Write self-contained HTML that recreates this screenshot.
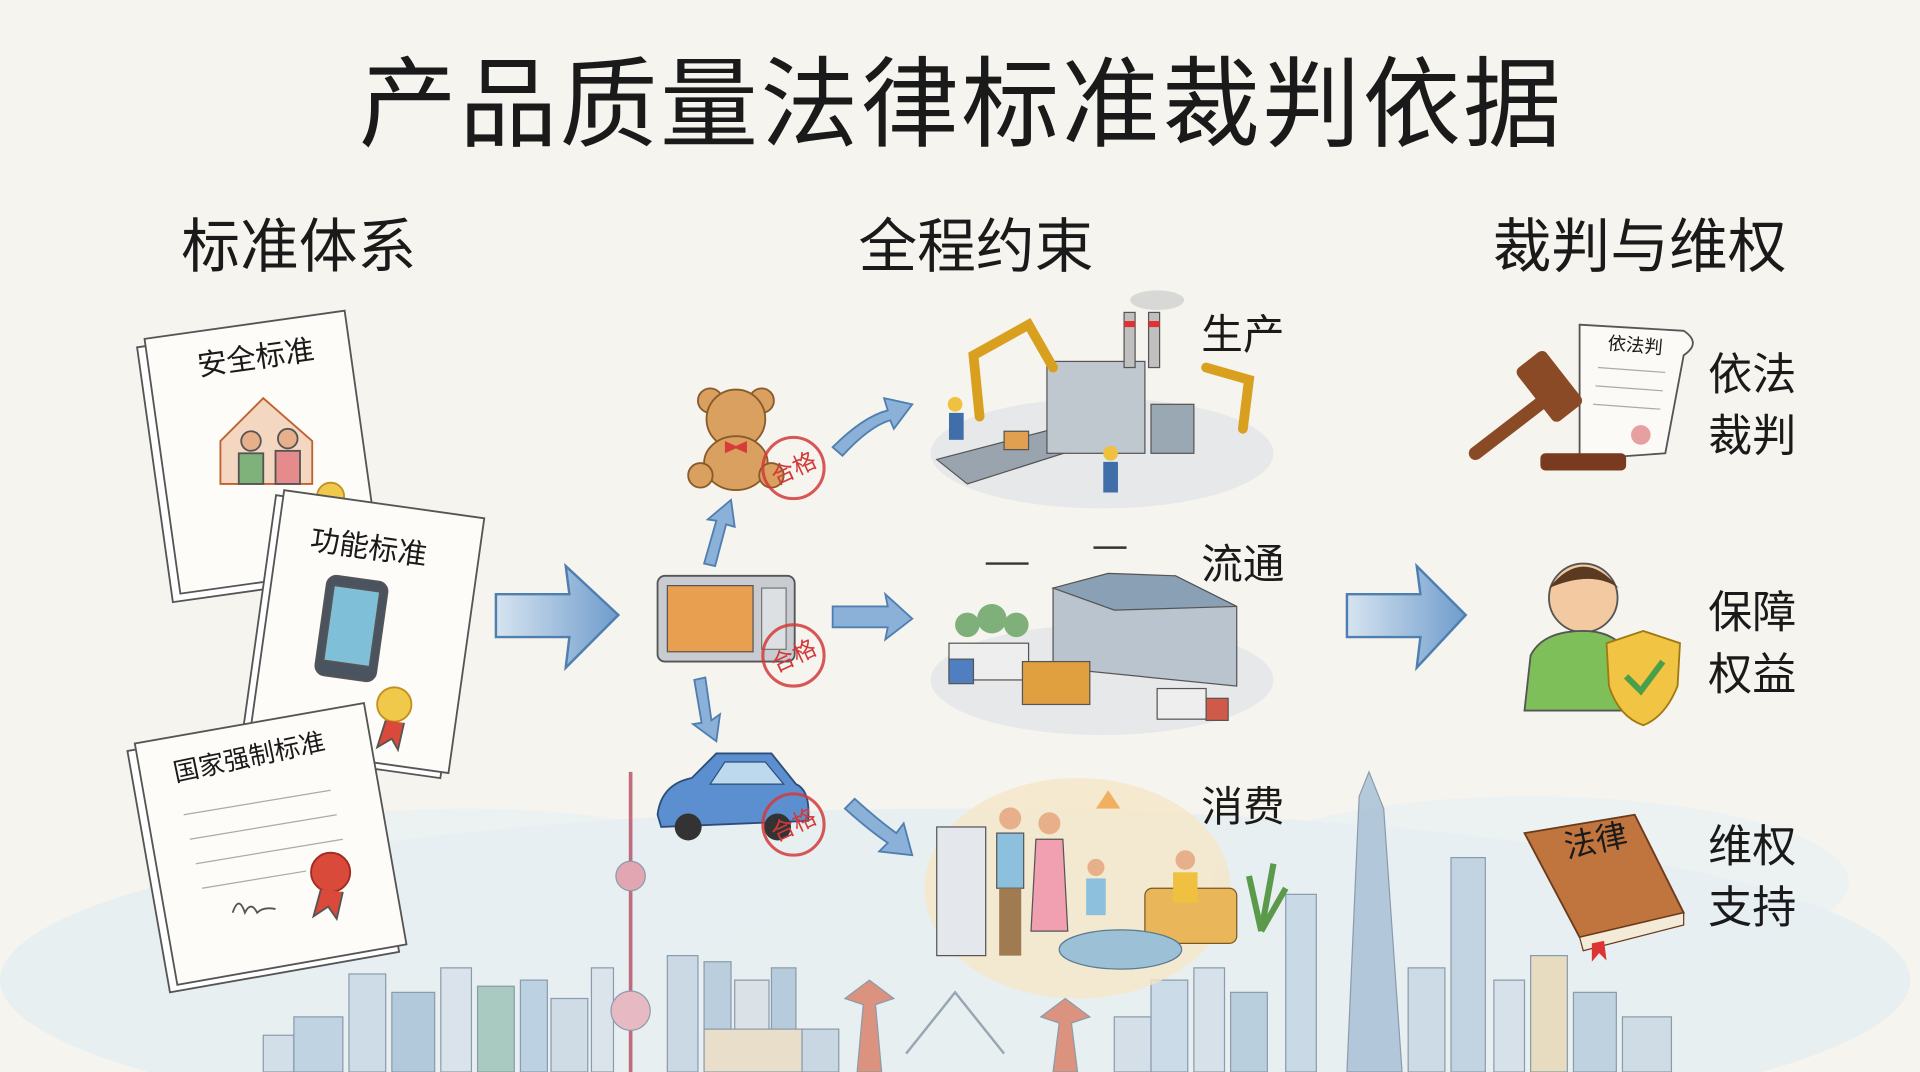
<!DOCTYPE html>
<html><head><meta charset="utf-8"><style>
html,body{margin:0;padding:0;background:#f6f4ee;width:1920px;height:1072px;overflow:hidden;}
svg{display:block}
text{font-family:"Liberation Sans","Noto Sans CJK SC",sans-serif;fill:#1a1a1a}
</style></head><body>
<svg width="1920" height="1072" viewBox="0 0 1568 875" preserveAspectRatio="none" xmlns="http://www.w3.org/2000/svg">
<defs>
<linearGradient id="arr" x1="0" y1="0" x2="1" y2="0"><stop offset="0" stop-color="#d6e4f0"/><stop offset="1" stop-color="#6f9ccc"/></linearGradient>
</defs>
<rect width="1568" height="875" fill="#f6f4ee"/>
<!-- sky wash -->
<ellipse cx="780" cy="800" rx="780" ry="140" fill="#e3ecf2" opacity="0.7"/>
<ellipse cx="380" cy="730" rx="260" ry="70" fill="#e6eef3" opacity="0.6"/>
<ellipse cx="1250" cy="720" rx="260" ry="70" fill="#e6eef3" opacity="0.6"/>
<!-- skyline -->
<g stroke="#7a8ea0" stroke-width="1" opacity="0.85">
<rect x="215" y="845" width="25" height="30" fill="#d0dde7"/>
<rect x="240" y="830" width="40" height="45" fill="#b9cfe0"/>
<rect x="285" y="795" width="30" height="80" fill="#c9d9e6"/>
<rect x="320" y="810" width="35" height="65" fill="#a9c3d8"/>
<rect x="360" y="790" width="25" height="85" fill="#d8e2ea"/>
<rect x="390" y="805" width="30" height="70" fill="#9fc4b8"/>
<rect x="425" y="800" width="22" height="75" fill="#b5cde0"/>
<rect x="450" y="815" width="30" height="60" fill="#cbd8e3"/>
<rect x="483" y="790" width="18" height="85" fill="#dbe3ea"/>
<rect x="545" y="780" width="25" height="95" fill="#c7d6e2"/>
<rect x="575" y="785" width="22" height="90" fill="#b3c9da"/>
<rect x="600" y="800" width="28" height="75" fill="#d9e0e6"/>
<rect x="630" y="790" width="20" height="85" fill="#aec6d9"/>
<rect x="575" y="840" width="80" height="35" fill="#e9dcc4"/>
<rect x="655" y="840" width="30" height="35" fill="#c3d3e0"/>
<rect x="910" y="830" width="30" height="45" fill="#d1dde6"/>
<rect x="940" y="800" width="30" height="75" fill="#c6d8e6"/>
<rect x="975" y="790" width="25" height="85" fill="#d4dfe8"/>
<rect x="1005" y="810" width="30" height="65" fill="#b3cadb"/>
<rect x="1150" y="790" width="30" height="85" fill="#c8d8e4"/>
<rect x="1185" y="700" width="28" height="175" fill="#bcd0e0"/>
<rect x="1220" y="800" width="25" height="75" fill="#d5dfe8"/>
<rect x="1250" y="780" width="30" height="95" fill="#e8d9b8"/>
<rect x="1285" y="810" width="35" height="65" fill="#b9cddd"/>
<rect x="1325" y="830" width="40" height="45" fill="#cbd9e4"/>
<rect x="1050" y="730" width="25" height="145" fill="#c4d6e4"/>
<path d="M1100 875 L1110 650 L1118 630 L1130 660 L1145 875 Z" fill="#a9c2d6"/>
<line x1="515" y1="630" x2="515" y2="875" stroke="#b8566a" stroke-width="3"/>
<circle cx="515" cy="715" r="12" fill="#e29aa8"/>
<circle cx="515" cy="825" r="16" fill="#e7b0bb"/>
<path d="M700 875 L705 820 L690 815 L710 800 L730 815 L715 820 L720 875Z" fill="#d9826a"/>
<path d="M860 875 L865 835 L850 830 L870 815 L890 830 L875 835 L880 875Z" fill="#d9826a"/>
<path d="M740 860 L780 810 L820 860" fill="none" stroke="#8a9aa8" stroke-width="2"/>
</g>
<!-- title -->
<text x="785" y="113" font-size="80" text-anchor="middle" letter-spacing="2">产品质量法律标准裁判依据</text>
<text x="244" y="218" font-size="48" text-anchor="middle">标准体系</text>
<text x="797" y="218" font-size="48" text-anchor="middle">全程约束</text>
<text x="1339" y="218" font-size="48" text-anchor="middle">裁判与维权</text>
<!-- documents -->
<g stroke="#555" stroke-width="1.5">
<g transform="rotate(-8 215 370)"><rect x="125" y="270" width="165" height="210" fill="#fff"/><rect x="132" y="264" width="165" height="210" fill="#fdfcf8"/></g>
<text x="210" y="300" font-size="24" transform="rotate(-8 210 300)" stroke="none" text-anchor="middle">安全标准</text>
<path d="M180 360 L215 325 L255 360 L255 395 L180 395Z" fill="#f3d7c0" stroke="#c06030"/>
<circle cx="205" cy="360" r="8" fill="#e7b08a"/><circle cx="235" cy="358" r="8" fill="#e7b08a"/>
<rect x="195" y="370" width="20" height="25" fill="#7fb27a"/><rect x="225" y="368" width="20" height="27" fill="#e58b8b"/>
<circle cx="270" cy="405" r="11" fill="#f0c84a" stroke="#c09020"/>
<g transform="rotate(8 295 520)"><rect x="210" y="415" width="165" height="210" fill="#fff"/><rect x="216" y="410" width="165" height="210" fill="#fdfcf8"/></g>
<text x="300" y="455" font-size="24" transform="rotate(8 300 455)" stroke="none" text-anchor="middle">功能标准</text>
<rect x="262" y="472" width="50" height="82" rx="8" fill="#4a5360" transform="rotate(8 287 513)"/>
<rect x="268" y="480" width="38" height="62" fill="#7fc0d8" transform="rotate(8 287 513)"/>
<circle cx="322" cy="575" r="14" fill="#f0c84a" stroke="#c09020"/>
<path d="M315 588 L308 610 L320 603 L325 612 L330 590" fill="#d94a3a"/>
<g transform="rotate(-10 215 695)"><rect x="120" y="595" width="190" height="200" fill="#fff"/><rect x="127" y="590" width="190" height="200" fill="#fdfcf8"/></g>
<text x="205" y="625" font-size="21" transform="rotate(-12 205 625)" stroke="none" text-anchor="middle">国家强制标准</text>
<g stroke="#aaa" stroke-width="1"><line x1="150" y1="665" x2="270" y2="645"/><line x1="155" y1="685" x2="275" y2="665"/><line x1="160" y1="705" x2="280" y2="685"/><line x1="165" y1="725" x2="250" y2="711"/></g>
<circle cx="270" cy="712" r="16" fill="#d94a3a" stroke="#a02a20"/>
<path d="M262 726 L256 748 L268 740 L275 750 L280 728" fill="#d94a3a"/>
<path d="M190 745 q5 -15 10 0 q5 -10 10 0 q5 -5 15 -3" fill="none"/>
</g>
<!-- big arrows -->
<path d="M405 485 L465 485 L462 462 L505 502 L462 545 L465 520 L405 520Z" fill="url(#arr)" stroke="#4f7fb0" stroke-width="2"/>
<path d="M1100 485 L1160 485 L1157 462 L1197 502 L1157 545 L1160 520 L1100 520Z" fill="url(#arr)" stroke="#4f7fb0" stroke-width="2"/>
<!-- small arrows -->
<g fill="#8cb1d8" stroke="#4f7fb0" stroke-width="1.5">
<path d="M680 365 Q705 340 725 335 L722 325 L745 330 L730 350 L727 343 Q710 348 688 372Z"/>
<path d="M680 495 L725 495 L723 485 L745 505 L723 522 L725 512 L680 512Z"/>
<path d="M690 660 Q710 678 725 688 L718 695 L745 698 L738 672 L732 680 Q718 670 698 652Z"/>
<path d="M575 460 L585 425 L578 424 L597 408 L600 430 L593 428 L584 462Z"/>
<path d="M567 555 L573 590 L566 591 L585 605 L588 583 L581 588 L576 553Z"/>
</g>
<!-- teddy -->
<g stroke="#8a5a2a" stroke-width="1.5" fill="#d9a060">
<circle cx="580" cy="327" r="10"/><circle cx="622" cy="327" r="10"/>
<circle cx="601" cy="342" r="24"/>
<ellipse cx="601" cy="378" rx="26" ry="22"/>
<circle cx="572" cy="388" r="10"/><circle cx="630" cy="388" r="10"/>
</g>
<path d="M592 360 L601 364 L610 360 L610 370 L601 366 L592 370Z" fill="#d93a3a"/>
<!-- microwave -->
<rect x="537" y="470" width="112" height="70" rx="6" fill="#c8ccd0" stroke="#555" stroke-width="1.5"/>
<rect x="545" y="478" width="70" height="54" fill="#e8a050" stroke="#555"/>
<rect x="622" y="480" width="20" height="50" fill="#dde0e3" stroke="#777"/>
<!-- car -->
<path d="M537 665 Q540 640 565 635 L585 615 L630 615 L650 640 Q662 645 660 670 L540 675Z" fill="#5b8fcf" stroke="#2d4e7a" stroke-width="1.5"/>
<path d="M592 622 L625 622 L640 640 L580 640Z" fill="#bcd9ee" stroke="#2d4e7a"/>
<circle cx="562" cy="675" r="11" fill="#333"/><circle cx="635" cy="675" r="11" fill="#333"/>
<!-- stamps -->
<g fill="none" stroke="#d23a3a" stroke-width="2.5" opacity="0.85">
<circle cx="648" cy="382" r="25"/><circle cx="648" cy="535" r="25"/><circle cx="648" cy="673" r="25"/>
</g>
<g font-size="19" text-anchor="middle">
<text x="648" y="389" transform="rotate(-25 648 382)" style="fill:#d23a3a">合格</text>
<text x="648" y="542" transform="rotate(-25 648 535)" style="fill:#d23a3a">合格</text>
<text x="648" y="680" transform="rotate(-25 648 673)" style="fill:#d23a3a">合格</text>
</g>
<!-- production scene -->
<ellipse cx="900" cy="370" rx="140" ry="45" fill="#e6e8ea"/>
<path d="M765 375 L880 345 L900 360 L790 395Z" fill="#9aa4ae" stroke="#555"/>
<rect x="855" y="295" width="80" height="75" fill="#bfc7cf" stroke="#555"/>
<rect x="918" y="255" width="9" height="45" fill="#c0c0c0" stroke="#555"/><rect x="938" y="255" width="9" height="45" fill="#c0c0c0" stroke="#555"/>
<rect x="918" y="262" width="9" height="5" fill="#d33"/><rect x="938" y="262" width="9" height="5" fill="#d33"/>
<ellipse cx="945" cy="245" rx="22" ry="8" fill="#ccc" opacity="0.7"/>
<rect x="940" y="330" width="35" height="40" fill="#9aa8b4" stroke="#555"/>
<g stroke="#d9a020" stroke-width="8" stroke-linecap="round" fill="none"><path d="M800 340 L795 290 L840 265 L860 300"/><path d="M1015 350 L1020 310 L985 300"/></g>
<rect x="820" y="352" width="20" height="15" fill="#e0a050" stroke="#555"/>
<circle cx="780" cy="330" r="6" fill="#f0c040"/><rect x="775" y="337" width="12" height="22" fill="#3f6ea8"/>
<circle cx="907" cy="370" r="6" fill="#f0c040"/><rect x="901" y="377" width="12" height="25" fill="#3f6ea8"/>
<text x="1015" y="285" font-size="34" text-anchor="middle">生产</text>
<!-- circulation -->
<ellipse cx="900" cy="555" rx="140" ry="45" fill="#e6e8ea"/>
<path d="M860 480 L960 470 L1010 495 L1010 560 L860 545Z" fill="#b9c4ce" stroke="#555"/>
<path d="M860 480 L905 468 L960 470 L1010 495 L910 498Z" fill="#8aa0b5" stroke="#555"/>
<rect x="775" y="525" width="65" height="30" fill="#eee" stroke="#555"/><rect x="775" y="538" width="20" height="20" fill="#4f7fc0" stroke="#555"/>
<rect x="835" y="540" width="55" height="35" fill="#e0a040" stroke="#555"/>
<rect x="945" y="562" width="40" height="25" fill="#eee" stroke="#555"/><rect x="985" y="570" width="18" height="18" fill="#d05a4a" stroke="#555"/>
<g fill="#7fb07a"><circle cx="790" cy="510" r="10"/><circle cx="810" cy="505" r="12"/><circle cx="830" cy="510" r="10"/></g>
<g stroke="#333" stroke-width="2"><line x1="805" y1="460" x2="840" y2="460"/><line x1="893" y1="447" x2="920" y2="447"/></g>
<text x="1015" y="472" font-size="34" text-anchor="middle">流通</text>
<!-- consumption -->
<ellipse cx="880" cy="725" rx="125" ry="90" fill="#f5e6c8" opacity="0.8"/>
<rect x="765" y="675" width="40" height="105" fill="#e4e8ec" stroke="#555"/>
<rect x="935" y="725" width="75" height="45" rx="6" fill="#e9b75a" stroke="#7a5a20"/>
<ellipse cx="915" cy="775" rx="50" ry="16" fill="#9cc0d6" stroke="#5a7a90"/>
<circle cx="825" cy="668" r="9" fill="#e7b08a"/><rect x="814" y="680" width="22" height="45" fill="#8cc0dc" stroke="#555"/><rect x="816" y="725" width="18" height="55" fill="#a07a50"/>
<circle cx="857" cy="672" r="9" fill="#e7b08a"/><path d="M846 685 L868 685 L872 760 L842 760Z" fill="#f0a0b0" stroke="#555"/>
<circle cx="895" cy="708" r="7" fill="#e7b08a"/><rect x="887" y="717" width="16" height="30" fill="#8cc0dc"/>
<circle cx="968" cy="702" r="8" fill="#e7b08a"/><rect x="958" y="712" width="20" height="25" fill="#f0c040"/>
<path d="M1030 760 L1020 715 M1030 760 L1040 705 M1030 760 L1050 725" stroke="#5a9a4a" stroke-width="5"/>
<path d="M895 660 L905 645 L915 660Z" fill="#f0b060"/>
<text x="1015" y="670" font-size="34" text-anchor="middle">消费</text>
<!-- right: gavel -->
<path d="M1290 265 L1375 270 Q1390 280 1375 290 L1360 370 L1290 375Z" fill="#fbfaf6" stroke="#555" stroke-width="1.5"/>
<text x="1335" y="287" font-size="15" text-anchor="middle" transform="rotate(5 1335 287)">依法判</text>
<g stroke="#aaa"><line x1="1305" y1="300" x2="1360" y2="304"/><line x1="1303" y1="315" x2="1358" y2="319"/><line x1="1301" y1="330" x2="1356" y2="334"/></g>
<circle cx="1340" cy="355" r="8" fill="#e7a0a0"/>
<rect x="1258" y="370" width="70" height="14" rx="4" fill="#7a3a20"/>
<path d="M1205 370 L1270 320" stroke="#8a4a25" stroke-width="11" stroke-linecap="round"/>
<rect x="1250" y="288" width="30" height="55" rx="5" fill="#8a4a25" transform="rotate(-38 1265 315)"/>
<text x="1431" y="318" font-size="36" text-anchor="middle">依法</text>
<text x="1431" y="368" font-size="36" text-anchor="middle">裁判</text>
<!-- person -->
<circle cx="1293" cy="488" r="28" fill="#f2c9a0" stroke="#555" stroke-width="1.5"/>
<path d="M1265 480 Q1293 445 1322 480 Q1300 465 1265 480Z" fill="#5a3a20"/>
<path d="M1245 580 L1250 535 Q1260 515 1293 515 Q1320 515 1330 535 L1335 580Z" fill="#7fbf5a" stroke="#555" stroke-width="1.5"/>
<path d="M1312 525 L1342 515 L1372 525 L1370 560 Q1360 585 1342 592 Q1322 585 1314 560Z" fill="#f2c444" stroke="#a07a10" stroke-width="1.5"/>
<path d="M1328 552 L1340 564 L1358 540" fill="none" stroke="#4aa04a" stroke-width="5"/>
<text x="1431" y="512" font-size="36" text-anchor="middle">保障</text>
<text x="1431" y="563" font-size="36" text-anchor="middle">权益</text>
<!-- book -->
<path d="M1245 680 L1335 665 L1375 745 L1290 765Z" fill="#c0743e" stroke="#6a3a1a" stroke-width="1.5"/>
<path d="M1290 765 L1375 745 L1375 755 L1293 776Z" fill="#f3ead8" stroke="#6a3a1a"/>
<path d="M1300 770 L1300 785 L1306 778 L1312 784 L1310 768" fill="#d33"/>
<text x="1305" y="695" font-size="26" text-anchor="middle" transform="rotate(-12 1305 695)">法律</text>
<text x="1431" y="703" font-size="36" text-anchor="middle">维权</text>
<text x="1431" y="753" font-size="36" text-anchor="middle">支持</text>
</svg>
</body></html>
